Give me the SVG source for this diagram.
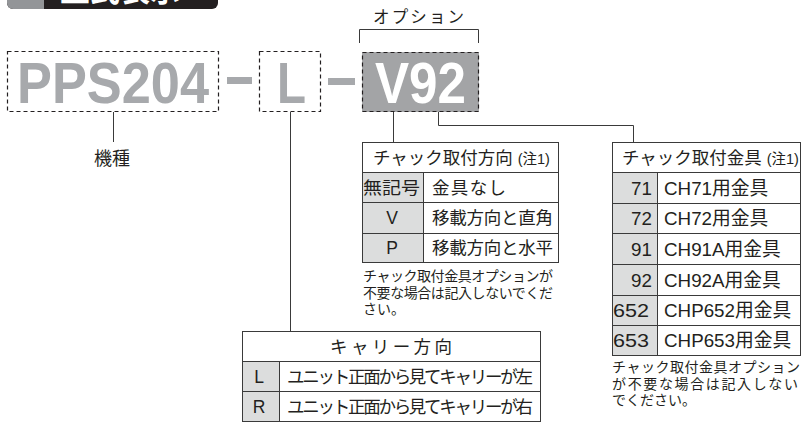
<svg xmlns="http://www.w3.org/2000/svg" width="802" height="422" viewBox="0 0 802 422">
<style>
text{font-family:"Liberation Sans","Noto Sans CJK JP",sans-serif;fill:#231f20}
.big{font-family:"Liberation Sans",Arial,sans-serif;font-weight:bold;font-size:58px;fill:#a7a9ac}
.dash{fill:none;stroke:#231f20;stroke-width:1.2;stroke-dasharray:4 3}
.cell{fill:#fff;stroke:#3a3a3a;stroke-width:1}
.key{fill:#dcdddd}
.ln{fill:none;stroke:#3a3a3a;stroke-width:1}
.t17{font-size:17.5px}
.t18{font-size:18.8px}
.t14{font-size:14px}
.sm{font-size:14.5px}
</style>
<g id="header">
<path d="M7,-10 H212 A6,6 0 0 1 218,-4 V3 A6,6 0 0 1 212,9 H13 A6,6 0 0 1 7,3 Z" fill="#231f20"/>
<path d="M7,-10 H44 V9 H13 A6,6 0 0 1 7,3 Z" fill="#939598"/>
<text x="60" y="1" style="font-size:30px;font-weight:bold;fill:#fff;font-family:'Noto Sans CJK JP',sans-serif">型式表示</text>
</g>
<g id="model">
<rect class="dash" x="7.5" y="51.5" width="211" height="60"/>
<text class="big" x="17" y="103" textLength="192" lengthAdjust="spacingAndGlyphs">PPS204</text>
</g>
<rect x="227" y="77" width="25" height="7" fill="#a7a9ac"/>
<g id="carrier-code">
<rect class="dash" x="259.5" y="51.5" width="61" height="60"/>
<text class="big" x="277" y="103" textLength="29" lengthAdjust="spacingAndGlyphs">L</text>
</g>
<rect x="328" y="78" width="27" height="7" fill="#a7a9ac"/>
<g id="option-code">
<rect x="362" y="52" width="117" height="60" fill="#a3a4a6"/>
<rect class="dash" x="362.5" y="52.5" width="116" height="59"/>
<text class="big" x="375" y="103" textLength="91" lengthAdjust="spacingAndGlyphs" style="fill:#fff">V92</text>
</g>
<g id="option-label">
<text x="373" y="23" style="font-size:16.5px" textLength="91">オプション</text>
</g>
<g id="connectors">
<path class="ln" d="M359.5,43 V29.5 H478.5 V43"/>
<path class="ln" d="M113.5,112 V142" stroke="#777"/>
<path class="ln" d="M290.5,112 V331"/>
<path class="ln" d="M393.5,112 V142"/>
<path class="ln" d="M438.5,112 V125.5 H633.5 V142"/>
</g>
<g id="kishu">
<text x="94" y="165" style="font-size:18px">機種</text>
</g>
<g id="table-direction">
<rect class="cell" x="362.5" y="142.5" width="196" height="120"/>
<rect class="key" x="363" y="173" width="60" height="89"/>
<path class="ln" d="M362.5,172.5 H558.5 M362.5,202.5 H558.5 M362.5,233.5 H558.5 M423.5,172.5 V262.5"/>
<text x="373" y="164" class="t17">チャック取付方向 <tspan class="sm">(注1)</tspan></text>
<text x="363" y="194" class="t17" textLength="57" lengthAdjust="spacingAndGlyphs">無記号</text>
<text x="432" y="194" class="t17" textLength="74">金具なし</text>
<text x="392" y="224" class="t17" text-anchor="middle">V</text>
<text x="432" y="224" class="t17" textLength="121">移載方向と直角</text>
<text x="392" y="254" class="t17" text-anchor="middle">P</text>
<text x="432" y="254" class="t17" textLength="121">移載方向と水平</text>
<text x="363" y="281" class="t14" textLength="190">チャック取付金具オプションが</text>
<text x="363" y="298" class="t14" textLength="190">不要な場合は記入しないでくだ</text>
<text x="363" y="314" class="t14">さい。</text>
</g>
<g id="table-bracket">
<rect class="cell" x="612.5" y="142.5" width="188" height="213"/>
<rect class="key" x="613" y="173" width="44" height="182"/>
<path class="ln" d="M612.5,172.5 H800.5 M612.5,203.5 H800.5 M612.5,233.5 H800.5 M612.5,264.5 H800.5 M612.5,295.5 H800.5 M612.5,325.5 H800.5 M657.5,172.5 V355.5"/>
<text x="622" y="164" class="t17">チャック取付金具 <tspan class="sm">(注1)</tspan></text>
<text x="652" y="195" class="t18" text-anchor="end">71</text>
<text x="664" y="195" class="t18">CH71用金具</text>
<text x="652" y="225" class="t18" text-anchor="end">72</text>
<text x="664" y="225" class="t18">CH72用金具</text>
<text x="652" y="256" class="t18" text-anchor="end">91</text>
<text x="664" y="256" class="t18">CH91A用金具</text>
<text x="652" y="287" class="t18" text-anchor="end">92</text>
<text x="664" y="287" class="t18">CH92A用金具</text>
<text x="613" y="317" class="t18" textLength="36" lengthAdjust="spacingAndGlyphs">652</text>
<text x="664" y="317" class="t18">CHP652用金具</text>
<text x="613" y="347" class="t18" textLength="36" lengthAdjust="spacingAndGlyphs">653</text>
<text x="664" y="347" class="t18">CHP653用金具</text>
<text x="612" y="372" class="t14" textLength="188">チャック取付金具オプション</text>
<text x="612" y="389" class="t14" textLength="186">が不要な場合は記入しない</text>
<text x="612" y="405" class="t14">でください。</text>
</g>
<g id="table-carrier">
<rect class="cell" x="242.5" y="331.5" width="298" height="90"/>
<rect class="key" x="243" y="362" width="36" height="59"/>
<path class="ln" d="M242.5,361.5 H540.5 M242.5,391.5 H540.5 M279.5,361.5 V421.5"/>
<text x="391" y="353" class="t17" text-anchor="middle" textLength="122">キャリー方向</text>
<text x="259" y="383" class="t17" text-anchor="middle">L</text>
<text x="287" y="383" class="t17" textLength="246">ユニット正面から見てキャリーが左</text>
<text x="259" y="413" class="t17" text-anchor="middle">R</text>
<text x="287" y="413" class="t17" textLength="246">ユニット正面から見てキャリーが右</text>
</g>
</svg>
